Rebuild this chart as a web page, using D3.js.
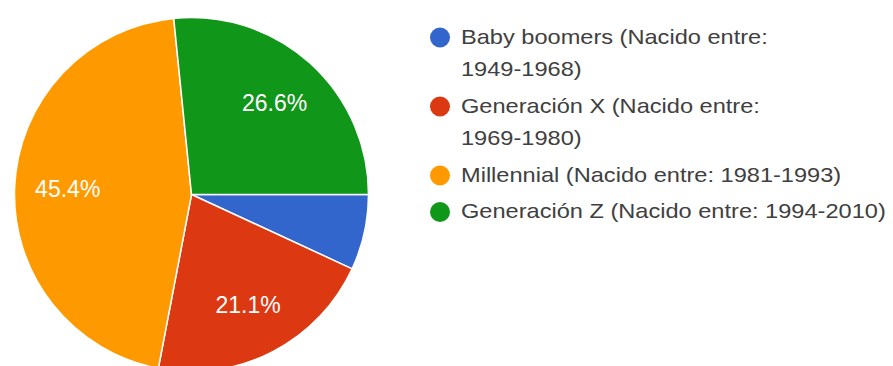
<!DOCTYPE html>
<html>
<head>
<meta charset="utf-8">
<script src="https://cdn.jsdelivr.net/npm/d3@7"></script>
<style>
  html, body { margin: 0; padding: 0; background: #fff; }
  svg { display: block; }
</style>
</head>
<body>
<svg id="chart" width="893" height="366"></svg>
<script>
// Generations of respondents, share of answers (%)
const categories = [
  "Baby boomers (Nacido entre: 1949-1968)",
  "Generación X (Nacido entre: 1969-1980)",
  "Millennial (Nacido entre: 1981-1993)",
  "Generación Z (Nacido entre: 1994-2010)"
];
const values = [6.9, 21.1, 45.4, 26.6];
// Legend text as it wraps in the legend column
const legendLines = [
  ["Baby boomers (Nacido entre:", "1949-1968)"],
  ["Generación X (Nacido entre:", "1969-1980)"],
  ["Millennial (Nacido entre: 1981-1993)"],
  ["Generación Z (Nacido entre: 1994-2010)"]
];
const colors = ["#3366cc", "#dc3912", "#ff9900", "#109618"];

const svg = d3.select("#chart");
const cx = 191.5, cy = 194.5, R = 177;

const color = d3.scaleOrdinal().domain(categories).range(colors);

// Slices start at 3 o'clock and run clockwise in category order
const pie = d3.pie()
  .sort(null)
  .value(d => d.value)
  .startAngle(Math.PI / 2)
  .endAngle(Math.PI / 2 + 2 * Math.PI);

const data = categories.map((c, i) => ({ name: c, value: values[i] }));
const arcs = pie(data);

const arc = d3.arc().innerRadius(0).outerRadius(R);
const labelArc = d3.arc().innerRadius(R * 0.7).outerRadius(R * 0.7);

const g = svg.append("g").attr("transform", `translate(${cx},${cy})`);

g.selectAll("path.slice")
  .data(arcs)
  .join("path")
  .attr("class", "slice")
  .attr("d", arc)
  .attr("fill", d => color(d.data.name))
  .attr("stroke", "#ffffff")
  .attr("stroke-width", 1.5)
  .attr("stroke-linejoin", "round");

// Percentage labels (small slices are left unlabeled)
g.selectAll("text.pct")
  .data(arcs.filter(d => d.data.value >= 10))
  .join("text")
  .attr("class", "pct")
  .attr("transform", d => `translate(${labelArc.centroid(d)})`)
  .attr("text-anchor", "middle")
  .attr("dy", "0.36em")
  .attr("font-family", "'Liberation Sans', Arial, sans-serif")
  .attr("font-size", 23)
  .attr("fill", "#ffffff")
  .text(d => d.data.value.toFixed(1) + "%");

// Legend: wide-set text beside colour dots
const legend = svg.append("g");
const lineH = 32.5, itemGap = 36.5;
let baseY = 44;
categories.forEach((c, i) => {
  const item = legend.append("g");
  item.append("circle")
    .attr("cx", 440)
    .attr("cy", baseY - 6.5)
    .attr("r", 10)
    .attr("fill", color(c));
  const t = item.append("text")
    .attr("transform", "translate(461,0) scale(1.18,1)")
    .attr("font-family", "'Liberation Sans', Arial, sans-serif")
    .attr("font-size", 20)
    .attr("fill", "#404040");
  legendLines[i].forEach((line, j) => {
    t.append("tspan")
      .attr("x", 0)
      .attr("y", baseY + j * lineH)
      .text(line);
  });
  baseY += (legendLines[i].length - 1) * lineH + itemGap;
});
</script>
</body>
</html>
